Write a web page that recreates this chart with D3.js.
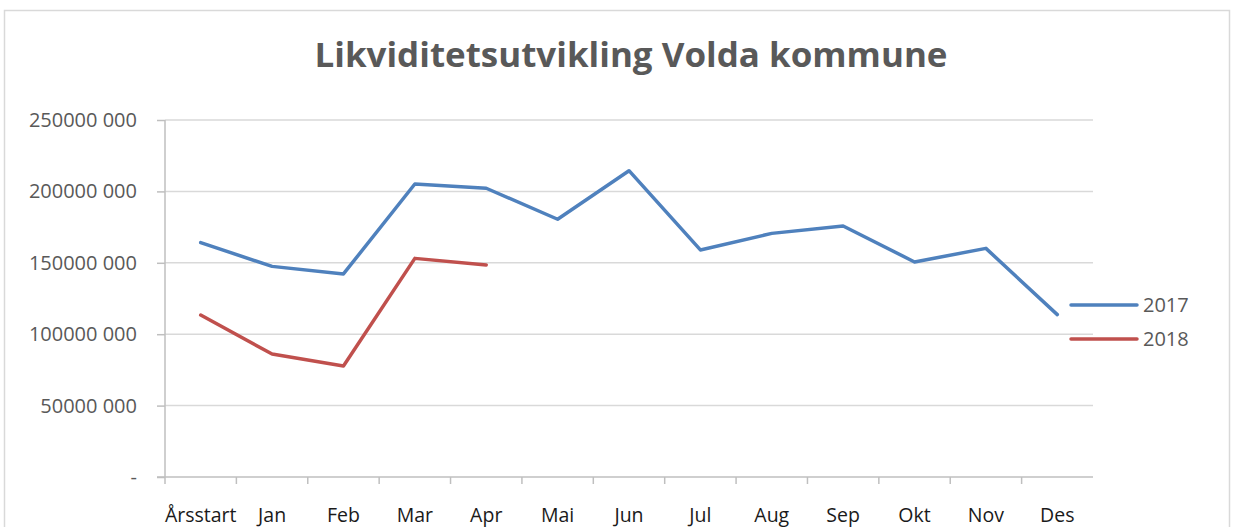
<!DOCTYPE html>
<html>
<head>
<meta charset="utf-8">
<script src="https://cdn.jsdelivr.net/npm/d3@7"></script>
<style>
  body { margin: 0; background: #fff; }
  svg { display: block; font-family: "Open Sans", "Noto Sans", sans-serif; }
</style>
</head>
<body>
<script>
const months = ["Årsstart", "Jan", "Feb", "Mar", "Apr", "Mai", "Jun", "Jul", "Aug", "Sep", "Okt", "Nov", "Des"];
const values2017 = [164.1, 147.5, 142.2, 205.2, 202.2, 180.5, 214.5, 159.0, 170.6, 175.8, 150.6, 160.1, 113.7].map(d => d * 1e6);
const values2018 = [113.4, 86.1, 77.7, 153.1, 148.5].map(d => d * 1e6);
const yTicks = [0, 50e6, 100e6, 150e6, 200e6, 250e6];

const series = [
  { name: "2017", values: values2017, color: "#4F81BD" },
  { name: "2018", values: values2018, color: "#C0504D" }
];

const w = 1241, h = 527;
const plot = { left: 165, right: 1093, top: 120, bottom: 477 };
const font = '"Open Sans", "Noto Sans", sans-serif';

const svg = d3.select("body").append("svg").attr("width", w).attr("height", h);

// chart frame
svg.append("rect")
  .attr("x", 4.5).attr("y", 10.5)
  .attr("width", 1225).attr("height", 540)
  .attr("fill", "none").attr("stroke", "#d9d9d9").attr("stroke-width", 1.5);

svg.append("text")
  .attr("x", 631).attr("y", 67)
  .attr("text-anchor", "middle")
  .attr("font-size", 34).attr("font-weight", "bold")
  .attr("fill", "#595959")
  .attr("textLength", 633).attr("lengthAdjust", "spacingAndGlyphs")
  .text("Likviditetsutvikling Volda kommune");

const x = d3.scaleBand().domain(months).range([plot.left, plot.right]);
const y = d3.scaleLinear().domain([0, 250e6]).range([plot.bottom, plot.top]);

// gridlines
svg.append("g")
  .selectAll("line")
  .data(yTicks.slice(1))
  .join("line")
  .attr("x1", plot.left).attr("x2", plot.right)
  .attr("y1", d => y(d)).attr("y2", d => y(d))
  .attr("stroke", "#d9d9d9").attr("stroke-width", 1.5);

const fmt = d => d === 0 ? "-" : d3.format(",")(d).replace(/,(\d{3})$/, " $1").replace(/,/g, "");

const yAxis = svg.append("g")
  .attr("transform", `translate(${plot.left},0)`)
  .call(d3.axisLeft(y).tickValues(yTicks).tickSize(8).tickPadding(20).tickFormat(fmt))
  .attr("font-family", font);
yAxis.select(".domain").attr("stroke", "#bfbfbf").attr("stroke-width", 1.5).attr("d", `M0,${plot.top}V${plot.bottom}`);
yAxis.selectAll(".tick line").attr("stroke", "#bfbfbf").attr("stroke-width", 1.5);
yAxis.selectAll("text").attr("font-size", 20).attr("fill", "#595959");

const xAxis = svg.append("g")
  .attr("transform", `translate(0,${plot.bottom})`)
  .call(d3.axisBottom(x).tickSize(0).tickPadding(31))
  .attr("font-family", font);
xAxis.select(".domain").attr("stroke", "#bfbfbf").attr("stroke-width", 1.5).attr("d", `M${plot.left - 8},0H${plot.right}`);
xAxis.selectAll("text").attr("font-size", 19.5).attr("fill", "#1a1a1a");

// x tick marks at band edges
svg.append("g")
  .selectAll("line")
  .data(months)
  .join("line")
  .attr("x1", d => x(d)).attr("x2", d => x(d))
  .attr("y1", plot.bottom).attr("y2", plot.bottom + 7)
  .attr("stroke", "#bfbfbf").attr("stroke-width", 1.5);

const line = d3.line()
  .x((d, i) => x(months[i]) + x.bandwidth() / 2)
  .y(d => y(d));

svg.append("g")
  .selectAll("path")
  .data(series)
  .join("path")
  .attr("d", d => line(d.values))
  .attr("fill", "none")
  .attr("stroke", d => d.color)
  .attr("stroke-width", 3.5)
  .attr("stroke-linejoin", "round")
  .attr("stroke-linecap", "round");

const legend = svg.append("g")
  .selectAll("g")
  .data(series)
  .join("g")
  .attr("transform", (d, i) => `translate(1071,${305 + i * 34})`);
legend.append("line")
  .attr("x1", 0).attr("x2", 66)
  .attr("stroke", d => d.color).attr("stroke-width", 3.5).attr("stroke-linecap", "round");
legend.append("text")
  .attr("x", 72).attr("y", 7)
  .attr("font-size", 20).attr("fill", "#595959")
  .text(d => d.name);
</script>
</body>
</html>
